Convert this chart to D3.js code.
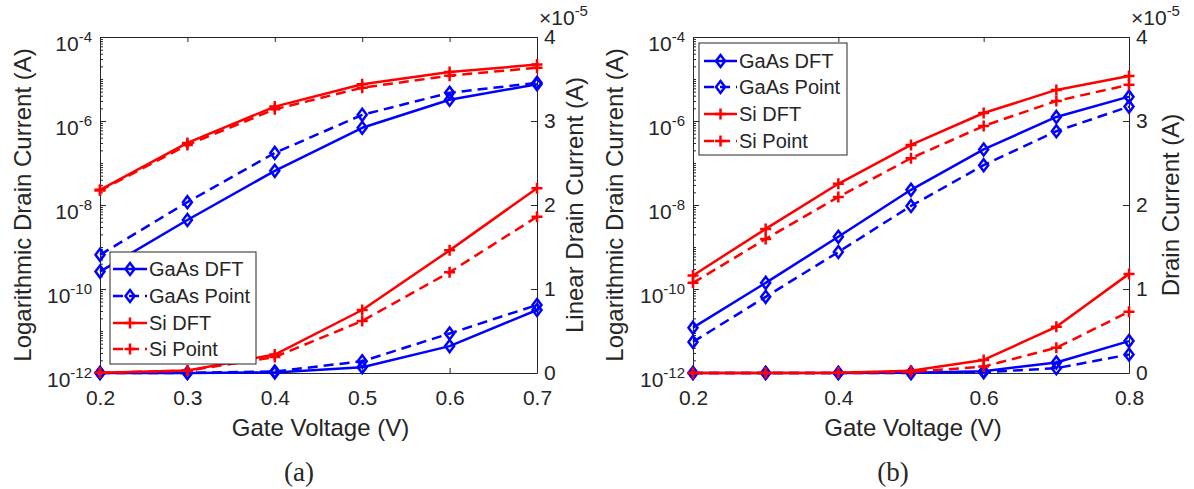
<!DOCTYPE html>
<html><head><meta charset="utf-8">
<script src="https://cdn.jsdelivr.net/npm/d3@7"></script>
<style>
body{margin:0;background:#fff}
svg{display:block}
text{font-family:"Liberation Sans",Arial,Helvetica,sans-serif;fill:#262626}
text.cap{font-family:"Liberation Serif","DejaVu Serif",serif}
</style>
</head><body>
<svg id="c" width="1194" height="489"></svg>
<script>
// ---------------- data ----------------
const voltageA   = [0.2, 0.3, 0.4, 0.5, 0.6, 0.7];
const gaasDftA   = [2.6e-10, 4.4e-9, 6.5e-8, 6.9e-7, 3.2e-6, 7.5e-6];
const gaasPointA = [6.5e-10, 1.17e-8, 1.74e-7, 1.4e-6, 4.7e-6, 8.1e-6];
const siDftA     = [2.3e-8, 3.0e-7, 2.2e-6, 7.5e-6, 1.46e-5, 2.2e-5];
const siPointA   = [2.2e-8, 2.7e-7, 1.9e-6, 6.2e-6, 1.2e-5, 1.86e-5];

const voltageB   = [0.2, 0.3, 0.4, 0.5, 0.6, 0.7, 0.8];
const gaasDftB   = [1.2e-11, 1.4e-10, 1.75e-9, 2.3e-8, 2.1e-7, 1.25e-6, 3.8e-6];
const gaasPointB = [5.5e-12, 6.5e-11, 7.6e-10, 9.5e-9, 8.9e-8, 5.7e-7, 2.2e-6];
const siDftB     = [2.1e-10, 2.7e-9, 3.2e-8, 2.7e-7, 1.55e-6, 5.5e-6, 1.18e-5];
const siPointB   = [1.4e-10, 1.55e-9, 1.55e-8, 1.3e-7, 7.6e-7, 3.0e-6, 7.3e-6];

const seriesNames = ["GaAs DFT", "GaAs Point", "Si DFT", "Si Point"];
const xTicksA = [0.2, 0.3, 0.4, 0.5, 0.6, 0.7];
const xTicksB = [0.2, 0.4, 0.6, 0.8];
const yLogTicks = [1e-12, 1e-10, 1e-8, 1e-6, 1e-4];
const yLinTicks = [0, 1e-5, 2e-5, 3e-5, 4e-5];
const yLinScaleExp = -5;
const xLabel = "Gate Voltage (V)";
const yLeftLabel = "Logarithmic Drain Current (A)";
const yRightLabels = ["Linear Drain Current (A)", "Drain Current (A)"];
const captions = ["(a)", "(b)"];

// ---------------- styles ----------------
const colors = ["#0000ff", "#0000ff", "#ff0000", "#ff0000"];
const dashes = [null, "10,6", null, "10,6"];
const markers = ["diamond", "diamond", "plus", "plus"];
const AX = "#262626";
const LW = 2.5;

const diamondType = {draw(ctx){ctx.moveTo(0,-6);ctx.lineTo(4.5,0);ctx.lineTo(0,6);ctx.lineTo(-4.5,0);ctx.closePath();}};
const plusType = {draw(ctx){ctx.moveTo(-5.5,0);ctx.lineTo(5.5,0);ctx.moveTo(0,-5.5);ctx.lineTo(0,5.5);}};
const symbolPath = m => d3.symbol().type(m === "diamond" ? diamondType : plusType)();

const svg = d3.select("#c");

const panels = [
  {left:100, right:537, top:37, bottom:373, xDomain:[0.2,0.7], xTicks:xTicksA, volt:voltageA,
   series:[gaasDftA, gaasPointA, siDftA, siPointA],
   yLabelX:31, yRLabelX:583, caption:captions[0], capX:299, rLabel:yRightLabels[0],
   legend:{x:110, y:252, w:146, h:112, rows:[269,296,323,349], l0:113, l1:147, tx:149}},
  {left:693, right:1129, top:37, bottom:373, xDomain:[0.2,0.8], xTicks:xTicksB, volt:voltageB,
   series:[gaasDftB, gaasPointB, siDftB, siPointB],
   yLabelX:623, yRLabelX:1179, caption:captions[1], capX:893, rLabel:yRightLabels[1],
   legend:{x:699, y:43, w:148, h:112, rows:[61,87,114,141], l0:704, l1:737, tx:739}}
];

panels.forEach(p => {
  const g = svg.append("g");
  const x = d3.scaleLinear().domain(p.xDomain).range([p.left, p.right]);
  const yL = d3.scaleLog().domain([1e-12, 1e-4]).range([p.bottom, p.top]);
  const yR = d3.scaleLinear().domain([0, 4e-5]).range([p.bottom, p.top]);

  const styleAxis = sel => {
    sel.attr("color", AX);
    sel.selectAll("path.domain").attr("stroke-width", 1);
    sel.selectAll(".tick line").attr("stroke-width", 1);
    sel.selectAll("text").attr("fill", AX);
  };
  const bx = g.append("g").attr("transform", `translate(0,${p.bottom})`)
    .call(d3.axisBottom(x).tickValues(p.xTicks).tickSize(-5).tickSizeOuter(0).tickPadding(17).tickFormat(d3.format(".1f")));
  styleAxis(bx); bx.selectAll("text").attr("font-size", 21);
  const tx = g.append("g").attr("transform", `translate(0,${p.top})`)
    .call(d3.axisTop(x).tickValues(p.xTicks).tickSize(-5).tickSizeOuter(0).tickFormat(""));
  styleAxis(tx);

  // log left axis with minor ticks
  const minors = [];
  for (let e = -12; e < -4; e++) for (let k = 1; k <= 9; k++) {
    const v = k * Math.pow(10, e);
    if (!(k === 1 && e % 2 === 0)) minors.push(v);
  }
  const lm = g.append("g").attr("transform", `translate(${p.left},0)`)
    .call(d3.axisLeft(yL).tickValues(minors).tickSize(-3).tickSizeOuter(0).tickFormat(""));
  styleAxis(lm); lm.select("path.domain").remove();
  const la = g.append("g").attr("transform", `translate(${p.left},0)`)
    .call(d3.axisLeft(yL).tickValues(yLogTicks).tickSize(-6).tickSizeOuter(0).tickPadding(8).tickFormat(() => ""));
  styleAxis(la);
  la.selectAll(".tick text").each(function(d){
    const t = d3.select(this).attr("dy", 13).attr("font-size", 21);
    t.append("tspan").text("10");
    t.append("tspan").attr("dy", -9).attr("font-size", 15).text(Math.round(Math.log10(d)));
  });

  // linear right axis
  const ra = g.append("g").attr("transform", `translate(${p.right},0)`)
    .call(d3.axisRight(yR).tickValues(yLinTicks).tickSize(-6).tickSizeOuter(0).tickPadding(7)
      .tickFormat(d => d3.format("d")(Math.round(d / Math.pow(10, yLinScaleExp)))));
  styleAxis(ra); ra.selectAll("text").attr("font-size", 21);

  // exponent multiplier
  const mt = g.append("text").attr("x", p.right + 2).attr("y", 25).attr("font-size", 21);
  mt.append("tspan").text("\u00d710");
  mt.append("tspan").attr("dy", -9).attr("font-size", 15).text(yLinScaleExp);

  // labels
  g.append("text").attr("x", (p.left + p.right) / 2 + 2).attr("y", 436).attr("text-anchor", "middle")
    .attr("font-size", 24).text(xLabel);
  g.append("text").attr("transform", `translate(${p.yLabelX},${(p.top + p.bottom) / 2}) rotate(-90)`)
    .attr("text-anchor", "middle").attr("font-size", 24).text(yLeftLabel);
  g.append("text").attr("transform", `translate(${p.yRLabelX},${(p.top + p.bottom) / 2}) rotate(-90)`)
    .attr("text-anchor", "middle").attr("font-size", 24).text(p.rLabel);
  g.append("text").attr("class", "cap").attr("x", p.capX).attr("y", 481).attr("text-anchor", "middle")
    .attr("font-size", 27).text(p.caption);

  // data: log (left axis) then linear (right axis)
  [yL, yR].forEach(ys => {
    p.series.forEach((vals, i) => {
      const pts = p.volt.map((v, j) => [v, vals[j]]);
      const line = d3.line().x(d => x(d[0])).y(d => ys(d[1]));
      g.append("path").attr("d", line(pts)).attr("fill", "none").attr("stroke", colors[i])
        .attr("stroke-width", LW).attr("stroke-dasharray", dashes[i]).attr("stroke-linejoin", "round");
      g.selectAll(null).data(pts).enter().append("path")
        .attr("transform", d => `translate(${x(d[0])},${ys(d[1])})`)
        .attr("d", symbolPath(markers[i])).attr("fill", "none").attr("stroke", colors[i]).attr("stroke-width", LW);
    });
  });

  // legend
  const L = p.legend;
  const lg = g.append("g");
  lg.append("rect").attr("x", L.x).attr("y", L.y).attr("width", L.w).attr("height", L.h)
    .attr("fill", "#fff").attr("stroke", AX).attr("stroke-width", 1);
  seriesNames.forEach((n, i) => {
    const yy = L.rows[i];
    lg.append("line").attr("x1", L.l0).attr("x2", L.l1).attr("y1", yy).attr("y2", yy)
      .attr("stroke", colors[i]).attr("stroke-width", LW).attr("stroke-dasharray", dashes[i]);
    lg.append("path").attr("transform", `translate(${(L.l0 + L.l1) / 2},${yy})`)
      .attr("d", symbolPath(markers[i])).attr("fill", "none").attr("stroke", colors[i]).attr("stroke-width", LW);
    lg.append("text").attr("x", L.tx).attr("y", yy + 7).attr("font-size", 20).text(n);
  });
});
</script>
</body></html>
